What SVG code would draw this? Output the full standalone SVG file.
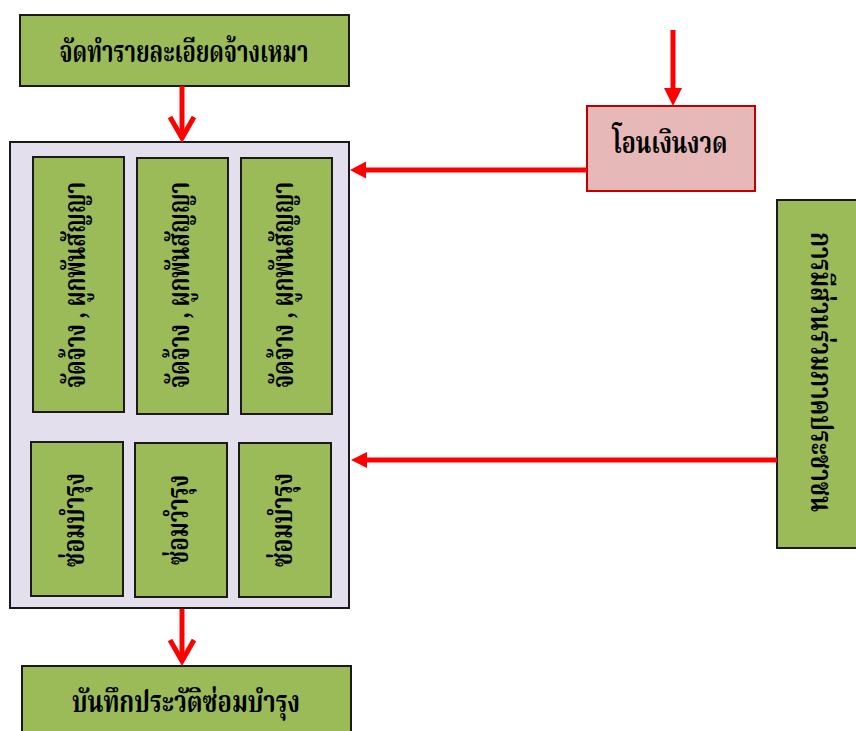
<svg xmlns="http://www.w3.org/2000/svg" width="856" height="731" viewBox="0 0 856 731">
  <defs>
    <style>
      .green { fill: #9BBB59; stroke: #1a1a1a; stroke-width: 2; }
      .panel { fill: #E4DFEC; stroke: #1a1a1a; stroke-width: 2; }
      .pink { fill: #E6B8B7; stroke: #C00000; stroke-width: 2; }
      .lbl { font-family: "Noto Serif Thai", "Noto Sans Thai", "Noto Sans", "DejaVu Sans", serif; font-weight: bold; font-size: 30px; fill: #000; text-anchor: middle; }
      .wire { stroke: #FF0000; stroke-width: 5; fill: none; }
      .chev { stroke: #FF0000; stroke-width: 5; fill: none; stroke-linejoin: miter; }
      .head { fill: #FF0000; }
    </style>
  </defs>

  <!-- process steps -->
  <g id="prepare">
    <rect class="green" x="20" y="15" width="329" height="71"/>
    <text class="lbl" x="184" y="62" textLength="249" lengthAdjust="spacingAndGlyphs">จัดทำรายละเอียดจ้างเหมา</text>
  </g>

  <g id="contract-panel">
    <rect class="panel" x="10" y="142" width="339" height="466"/>
  </g>

  <g id="contract-1">
    <rect class="green" x="33" y="157" width="91" height="255"/>
    <text class="lbl" transform="translate(85 285) rotate(-90)" textLength="206" lengthAdjust="spacingAndGlyphs">จัดจ้าง , ผูกพันสัญญา</text>
  </g>
  <g id="contract-2">
    <rect class="green" x="137" y="158" width="91" height="256"/>
    <text class="lbl" transform="translate(189 285) rotate(-90)" textLength="206" lengthAdjust="spacingAndGlyphs">จัดจ้าง , ผูกพันสัญญา</text>
  </g>
  <g id="contract-3">
    <rect class="green" x="241" y="158" width="91" height="256"/>
    <text class="lbl" transform="translate(293 285) rotate(-90)" textLength="206" lengthAdjust="spacingAndGlyphs">จัดจ้าง , ผูกพันสัญญา</text>
  </g>

  <g id="repair-1">
    <rect class="green" x="31" y="442" width="92" height="154"/>
    <text class="lbl" transform="translate(84 520) rotate(-90)" textLength="94" lengthAdjust="spacingAndGlyphs">ซ่อมบำรุง</text>
  </g>
  <g id="repair-2">
    <rect class="green" x="135" y="443" width="92" height="154"/>
    <text class="lbl" transform="translate(188 520) rotate(-90)" textLength="90" lengthAdjust="spacingAndGlyphs">ซ่อมวำรุง</text>
  </g>
  <g id="repair-3">
    <rect class="green" x="239" y="443" width="92" height="154"/>
    <text class="lbl" transform="translate(292 520) rotate(-90)" textLength="94" lengthAdjust="spacingAndGlyphs">ซ่อมบำรุง</text>
  </g>

  <g id="record">
    <rect class="green" x="22" y="666" width="329" height="80"/>
    <text class="lbl" x="186" y="712" textLength="228" lengthAdjust="spacingAndGlyphs">บันทึกประวัติซ่อมบำรุง</text>
  </g>

  <g id="transfer">
    <rect class="pink" x="587" y="106" width="168" height="85"/>
    <text class="lbl" x="670" y="153" textLength="115" lengthAdjust="spacingAndGlyphs">โอนเงินงวด</text>
  </g>

  <g id="participation">
    <rect class="green" x="777" y="200" width="90" height="348"/>
    <text class="lbl" transform="translate(811 372) rotate(90)" textLength="280" lengthAdjust="spacingAndGlyphs">การมีส่วนร่วมภาคประชาชน</text>
  </g>

  <!-- connectors -->
  <g id="connectors">
    <line class="wire" x1="182" y1="86" x2="182" y2="138"/>
    <polyline class="chev" points="170,117 182,138 194,117"/>

    <line class="wire" x1="182" y1="609" x2="182" y2="661"/>
    <polyline class="chev" points="170,640 182,661 194,640"/>

    <line class="wire" x1="673" y1="30" x2="673" y2="90"/>
    <polygon class="head" points="664,88 682,88 673,106"/>

    <line class="wire" x1="587" y1="170" x2="364" y2="170"/>
    <polygon class="head" points="366,161.5 366,178.5 350,170"/>

    <line class="wire" x1="777" y1="460" x2="365" y2="460"/>
    <polygon class="head" points="367,452 367,468 351,460"/>
  </g>
</svg>
